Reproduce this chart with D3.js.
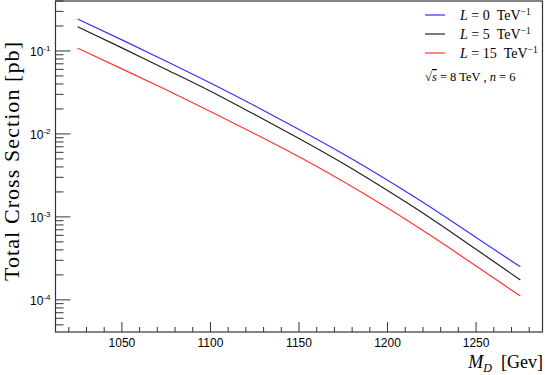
<!DOCTYPE html>
<meta charset="utf-8">
<style>
body { margin: 0; background: #fff; }
.axis text { font-family: "Liberation Sans", Arial, sans-serif; font-size: 12px; fill: #000; }
.serif { font-family: "Liberation Serif", "Times New Roman", serif; fill: #000; }
.line { fill: none; stroke-width: 1.2px; }
</style>
<svg width="545" height="375"></svg>
<script src="https://d3js.org/d3.v7.min.js"></script>
<script>

// data
var massD = [1025, 1050, 1075, 1100, 1125, 1150, 1175, 1200, 1225, 1250, 1275];
var sigmaL0  = [0.243, 0.136, 0.0753, 0.0411, 0.0218, 0.0113, 0.00573, 0.00277, 0.00128, 0.000564, 0.000250];
var sigmaL5  = [0.196, 0.109, 0.0598, 0.0327, 0.0171, 0.00883, 0.00440, 0.00208, 0.000946, 0.000407, 0.000174];
var sigmaL15 = [0.108, 0.0608, 0.0340, 0.0186, 0.01005, 0.00530, 0.00267, 0.00128, 0.000583, 0.000256, 0.000111];
var seriesNames = ["0", "5", "15"];
var seriesColors = ["#3333ff", "#222222", "#ff3333"];
var xTickValues = [1050, 1100, 1150, 1200, 1250];
var yTickPowers = [-1, -2, -3, -4];

var svg = d3.select("svg"),
    margin = {top: 1, right: 2.5, bottom: 43, left: 55.5},
    width = +svg.attr("width") - margin.left - margin.right,
    height = +svg.attr("height") - margin.top - margin.bottom,
    g = svg.append("g").attr("transform", "translate(" + margin.left + "," + margin.top + ")");

var x = d3.scaleLinear().domain([1012.5, 1287.5]).range([0, width]);
var y = d3.scaleLog().domain([4.1e-5, 0.4]).range([height, 0]);

var series = [sigmaL0, sigmaL5, sigmaL15].map(function(vals, i) {
  return {
    name: seriesNames[i],
    color: seriesColors[i],
    values: massD.map(function(m, j) { return {m: m, v: vals[j]}; })
  };
});

// x axis ticks (major every 50, minor every 10)
var xMinor = d3.range(1020, 1290, 10);
var gx = g.append("g").attr("class", "axis").attr("transform", "translate(0," + height + ")");
gx.selectAll("line.minor")
  .data(xMinor)
  .enter().append("line")
    .attr("x1", function(d) { return x(d); })
    .attr("x2", function(d) { return x(d); })
    .attr("y1", 0)
    .attr("y2", function(d) { return d % 50 === 0 ? -10 : -5; })
    .attr("stroke", "#333");
gx.selectAll("text")
  .data(xTickValues)
  .enter().append("text")
    .attr("x", function(d) { return x(d); })
    .attr("y", 15)
    .attr("text-anchor", "middle")
    .text(function(d) { return d; });

// y axis ticks (log)
var yMinor = y.ticks().filter(function(d) { return d >= y.domain()[0] && d <= y.domain()[1]; });
var gy = g.append("g").attr("class", "axis");
gy.selectAll("line")
  .data(yMinor)
  .enter().append("line")
    .attr("x1", 0)
    .attr("x2", function(d) {
      var p = Math.log10(d);
      return Math.abs(p - Math.round(p)) < 1e-6 ? 15 : 8;
    })
    .attr("y1", function(d) { return y(d); })
    .attr("y2", function(d) { return y(d); })
    .attr("stroke", "#333");
var yl = gy.selectAll("text")
  .data(yTickPowers)
  .enter().append("text")
    .attr("x", -5)
    .attr("y", function(d) { return y(Math.pow(10, d)) + 5; })
    .attr("text-anchor", "end");
yl.append("tspan").text("10");
yl.append("tspan")
  .attr("dy", -5)
  .style("font-size", "8px")
  .text(function(d) { return d; });

// curves
g.selectAll(".line")
  .data(series)
  .enter().append("path")
    .attr("class", "line")
    .attr("stroke", function(d) { return d.color; })
    .attr("d", function(d) {
      return d3.line()
        .curve(d3.curveNatural)
        .x(function(p) { return x(p.m); })
        .y(function(p) { return y(p.v); })(d.values);
    });

// frame
g.append("rect")
  .attr("width", width)
  .attr("height", height)
  .attr("fill", "none")
  .attr("stroke", "#333")
  .attr("stroke-width", 1.2);

// legend
var legend = svg.append("g").attr("transform", "translate(425,15)");
var item = legend.selectAll("g")
  .data(series)
  .enter().append("g")
    .attr("transform", function(d, i) { return "translate(0," + (i * 19) + ")"; });
item.append("line")
  .attr("x1", 0).attr("x2", 20)
  .attr("stroke", function(d) { return d.color; })
  .attr("stroke-width", 1.2);
var lt = item.append("text")
  .attr("class", "serif")
  .attr("x", 35)
  .attr("y", 4.5)
  .style("font-size", "14px");
lt.append("tspan").style("font-style", "italic").text("L");
lt.append("tspan").text(function(d) { return " = " + d.name + "\u2002TeV"; });
lt.append("tspan").attr("dy", -5).style("font-size", "9.5px").text("\u22121");

var note = legend.append("text")
  .attr("class", "serif")
  .attr("x", 0)
  .attr("y", 66)
  .style("font-size", "12.5px");
note.append("tspan").text("\u221A");
note.append("tspan").style("font-style", "italic").style("text-decoration", "overline").text("s");
note.append("tspan").text(" = 8 TeV , ");
note.append("tspan").style("font-style", "italic").text("n");
note.append("tspan").text(" = 6");

// axis titles
var xt = svg.append("text")
  .attr("class", "serif")
  .attr("x", 543)
  .attr("y", 368)
  .attr("text-anchor", "end")
  .style("font-size", "18px");
xt.append("tspan").style("font-style", "italic").text("M");
xt.append("tspan").attr("dy", 4).style("font-size", "12px").style("font-style", "italic").text("D");
xt.append("tspan").attr("dy", -4).text("\u2002[Gev]");

svg.append("text")
  .attr("class", "serif")
  .attr("transform", "translate(19,161.5) rotate(-90)")
  .attr("text-anchor", "middle")
  .attr("textLength", 239)
  .attr("lengthAdjust", "spacing")
  .style("font-size", "22px")
  .text("Total Cross Section [pb]");

</script>
